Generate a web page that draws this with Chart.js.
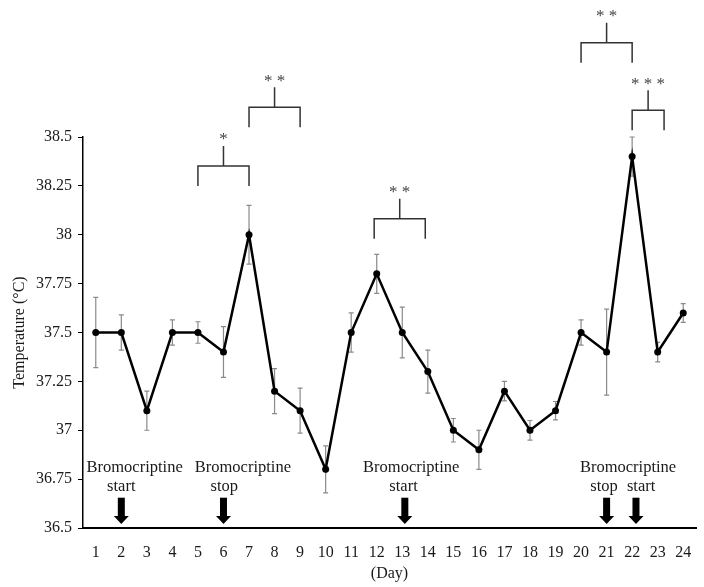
<!DOCTYPE html>
<html>
<head>
<meta charset="utf-8">
<script src="https://cdn.jsdelivr.net/npm/chart.js@4.4.0/dist/chart.umd.min.js"></script>
<style>
    html, body { margin: 0; padding: 0; background: #fff; }
    #wrap { width: 704px; height: 587px; position: relative; }
</style>
</head>
<body>
<div id="wrap"><canvas id="temp-chart"></canvas></div>
<script>
(function () {
    "use strict";

    const days = ["1", "2", "3", "4", "5", "6", "7", "8", "9", "10", "11", "12",
        "13", "14", "15", "16", "17", "18", "19", "20", "21", "22", "23", "24"];
    const meanTemp = [37.5, 37.5, 37.1, 37.5, 37.5, 37.4, 38.0, 37.2, 37.1, 36.8, 37.5, 37.8,
        37.5, 37.3, 37.0, 36.9, 37.2, 37.0, 37.1, 37.5, 37.4, 38.4, 37.4, 37.6];
    const sdTemp = [0.18, 0.09, 0.1, 0.065, 0.055, 0.13, 0.15, 0.115, 0.115, 0.12, 0.1, 0.1,
        0.13, 0.11, 0.06, 0.1, 0.05, 0.05, 0.047, 0.065, 0.22, 0.1, 0.05, 0.048];

    // significance brackets (day from / to, bottom of legs in °C)
    const bracketFrom = [5, 7, 11.9, 20, 22];
    const bracketTo = [7, 9, 13.9, 22, 23.25];
    const bracketBase = [38.25, 38.55, 37.98, 38.88, 38.535];
    const bracketStars = ["*", "* *", "* *", "* *", "* * *"];

    // treatment arrows and their notes
    const arrowDays = [2, 6, 13.1, 21, 22.15];
    const noteText = ["Bromocriptine", "start", "Bromocriptine", "stop", "Bromocriptine", "start",
        "Bromocriptine", "stop", "start"];
    const noteDay = [2.52, 2.0, 6.76, 6.03, 13.35, 13.05, 21.84, 20.9, 22.35];
    const noteTemp = [36.81, 36.71, 36.81, 36.71, 36.81, 36.71, 36.81, 36.71, 36.71];

    const serif = "'Liberation Serif', 'DejaVu Serif', serif";

    const errorBars = {
        id: "errorBars",
        beforeDatasetsDraw(chart) {
            const { ctx, scales: { x, y } } = chart;
            ctx.save();
            ctx.strokeStyle = "#8a8a8a";
            ctx.lineWidth = 1.2;
            meanTemp.forEach((m, i) => {
                const px = x.getPixelForValue(i);
                const top = y.getPixelForValue(m + sdTemp[i]);
                const bot = y.getPixelForValue(m - sdTemp[i]);
                ctx.beginPath();
                ctx.moveTo(px, top); ctx.lineTo(px, bot);
                ctx.moveTo(px - 2.5, top); ctx.lineTo(px + 2.5, top);
                ctx.moveTo(px - 2.5, bot); ctx.lineTo(px + 2.5, bot);
                ctx.stroke();
            });
            ctx.restore();
        },
    };

    const annotations = {
        id: "annotations",
        afterDraw(chart) {
            const { ctx, scales: { x, y } } = chart;
            ctx.save();

            // brackets
            ctx.strokeStyle = "#333";
            ctx.lineWidth = 1.5;
            ctx.fillStyle = "#444";
            ctx.font = "17px " + serif;
            ctx.textAlign = "center";
            ctx.textBaseline = "middle";
            bracketFrom.forEach((d, i) => {
                const x1 = x.getPixelForValue(d - 1);
                const x2 = x.getPixelForValue(bracketTo[i] - 1);
                const yb = y.getPixelForValue(bracketBase[i]);
                const yh = yb - 20;
                const xm = (x1 + x2) / 2;
                ctx.beginPath();
                ctx.moveTo(x1, yb); ctx.lineTo(x1, yh); ctx.lineTo(x2, yh); ctx.lineTo(x2, yb);
                ctx.moveTo(xm, yh); ctx.lineTo(xm, yh - 20);
                ctx.stroke();
                ctx.fillText(bracketStars[i], xm, yh - 26);
            });

            // arrows
            ctx.fillStyle = "#000";
            arrowDays.forEach((d) => {
                const px = x.getPixelForValue(d - 1);
                const tip = y.getPixelForValue(36.52);
                const top = y.getPixelForValue(36.655);
                ctx.fillRect(px - 3.5, top, 7, tip - top - 8);
                ctx.beginPath();
                ctx.moveTo(px - 7.5, tip - 8);
                ctx.lineTo(px + 7.5, tip - 8);
                ctx.lineTo(px, tip);
                ctx.closePath();
                ctx.fill();
            });

            // notes
            ctx.fillStyle = "#1a1a1a";
            ctx.font = "16.5px " + serif;
            noteText.forEach((t, i) => {
                ctx.fillText(t, x.getPixelForValue(noteDay[i] - 1), y.getPixelForValue(noteTemp[i]));
            });
            ctx.restore();
        },
    };

    const ctx = document.getElementById("temp-chart").getContext("2d");
    new Chart(ctx, {
        type: "line",
        data: {
            labels: days,
            datasets: [
                {
                    data: meanTemp,
                    borderColor: "#000",
                    backgroundColor: "#000",
                    borderWidth: 2.5,
                    pointRadius: 3.5,
                    pointBackgroundColor: "#000",
                    pointBorderWidth: 0,
                    tension: 0,
                    clip: false,
                },
            ],
        },
        options: {
            responsive: true,
            maintainAspectRatio: false,
            animation: false,
            layout: { padding: { top: 137, right: 8, left: 0, bottom: 0 } },
            plugins: {
                legend: { display: false },
                tooltip: { enabled: false },
            },
            scales: {
                x: {
                    type: "category",
                    offset: true,
                    grid: { display: false },
                    border: { display: true, color: "#000", width: 2 },
                    ticks: {
                        color: "#1a1a1a",
                        padding: 7,
                        maxRotation: 0,
                        autoSkip: false,
                        font: { family: serif, size: 16 },
                    },
                    title: {
                        display: true,
                        text: "(Day)",
                        color: "#1a1a1a",
                        font: { family: serif, size: 16 },
                        padding: { top: 0, bottom: 4 },
                    },
                    afterFit(scale) { scale.height = 59; },
                },
                y: {
                    min: 36.5,
                    max: 38.5,
                    grid: { drawOnChartArea: false, drawTicks: true, tickLength: 5, color: "#000" },
                    border: { display: true, color: "#000", width: 1.5 },
                    ticks: {
                        stepSize: 0.25,
                        padding: 6,
                        color: "#1a1a1a",
                        font: { family: serif, size: 16 },
                        callback: (v) => String(v),
                    },
                    title: {
                        display: true,
                        text: "Temperature (°C)",
                        color: "#1a1a1a",
                        font: { family: serif, size: 16 },
                        padding: { top: 10, bottom: 0 },
                    },
                    afterFit(scale) { scale.width = 83; },
                },
            },
        },
        plugins: [errorBars, annotations],
    });
})();
</script>
</body>
</html>
